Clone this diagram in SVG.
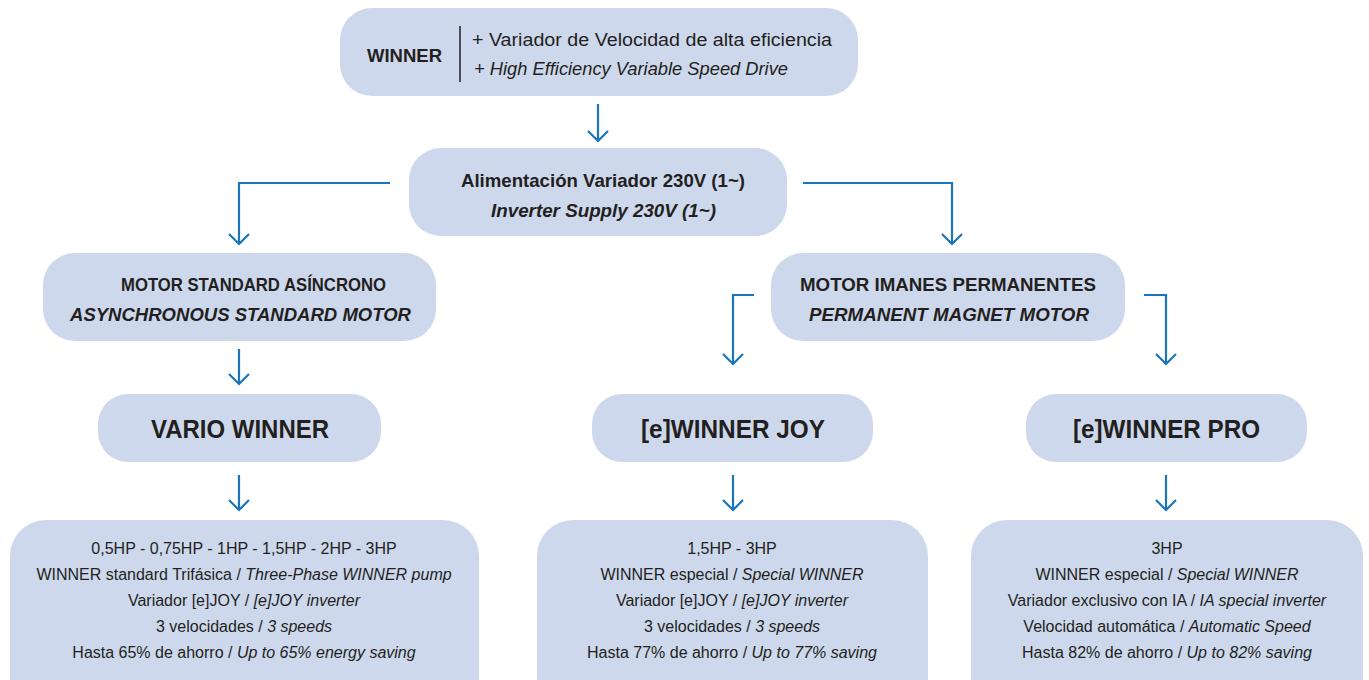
<svg xmlns="http://www.w3.org/2000/svg" width="1369" height="680" viewBox="0 0 1369 680">
<style>
.box{fill:#cdd8ec}
.t{font-family:"Liberation Sans",Arial,sans-serif;fill:#231f20;text-anchor:middle}
.b{font-weight:bold}
.i{font-style:italic}
.c{fill:none;stroke:#1b75bc;stroke-width:2.2}
.s{font-size:16px}
</style>
<rect width="1369" height="680" fill="#fff"/>
<g id="connectors" class="c">
<path d="M598,104V141M588,131L598,141L608,131"/>
<path d="M390,183H239V244M229,234L239,244L249,234"/>
<path d="M803,183H952V244M942,234L952,244L962,234"/>
<path d="M239,349V384M229,374L239,384L249,374"/>
<path d="M754,295H733V364M723,354L733,364L743,354"/>
<path d="M1144,295H1166V364M1156,354L1166,364L1176,354"/>
<path d="M239,475V510M229,500L239,510L249,500"/>
<path d="M733,475V510M723,500L733,510L743,500"/>
<path d="M1166,475V510M1156,500L1166,510L1176,500"/>
</g>
<g id="n-winner">
<rect class="box" x="340" y="8" width="518" height="88" rx="32"/>
<text class="t b" x="404.5" y="62" font-size="18.5" textLength="75" lengthAdjust="spacingAndGlyphs">WINNER</text>
<line x1="460" y1="26" x2="460" y2="82" stroke="#231f20" stroke-width="1.5"/>
<text class="t" x="652" y="46" font-size="17.5" textLength="360" lengthAdjust="spacingAndGlyphs">+ Variador de Velocidad de alta eficiencia</text>
<text class="t i" x="631" y="75" font-size="17.5" textLength="314" lengthAdjust="spacingAndGlyphs">+ High Efficiency Variable Speed Drive</text>
</g>
<g id="n-supply">
<rect class="box" x="409" y="148" width="378" height="88" rx="32"/>
<text class="t b" x="603" y="187" font-size="19" textLength="284" lengthAdjust="spacingAndGlyphs">Alimentación Variador 230V (1~)</text>
<text class="t b i" x="603.5" y="217" font-size="19" textLength="225" lengthAdjust="spacingAndGlyphs">Inverter Supply 230V (1~)</text>
</g>
<g id="n-async">
<rect class="box" x="43" y="253" width="393" height="88" rx="32"/>
<text class="t b" x="253.5" y="291" font-size="18.5" textLength="265" lengthAdjust="spacingAndGlyphs">MOTOR STANDARD ASÍNCRONO</text>
<text class="t b i" x="240.5" y="321" font-size="18.5" textLength="341" lengthAdjust="spacingAndGlyphs">ASYNCHRONOUS STANDARD MOTOR</text>
</g>
<g id="n-pm">
<rect class="box" x="771" y="253" width="354" height="88" rx="32"/>
<text class="t b" x="948" y="291" font-size="18.5" textLength="296" lengthAdjust="spacingAndGlyphs">MOTOR IMANES PERMANENTES</text>
<text class="t b i" x="949" y="321" font-size="18.5" textLength="280" lengthAdjust="spacingAndGlyphs">PERMANENT MAGNET MOTOR</text>
</g>
<g id="n-vario">
<rect class="box" x="98" y="394" width="283" height="68" rx="30"/>
<text class="t b" x="240" y="438" font-size="26" textLength="178" lengthAdjust="spacingAndGlyphs">VARIO WINNER</text>
</g>
<g id="n-joy">
<rect class="box" x="592" y="394" width="281" height="68" rx="30"/>
<text class="t b" x="733" y="438" font-size="26" textLength="184" lengthAdjust="spacingAndGlyphs">[e]WINNER JOY</text>
</g>
<g id="n-pro">
<rect class="box" x="1026" y="394" width="281" height="68" rx="30"/>
<text class="t b" x="1166.5" y="438" font-size="26" textLength="187" lengthAdjust="spacingAndGlyphs">[e]WINNER PRO</text>
</g>
<g id="d-vario">
<rect class="box" x="10" y="520" width="469" height="200" rx="36"/>
<text class="t s" x="244" y="554">0,5HP - 0,75HP - 1HP - 1,5HP - 2HP - 3HP</text>
<text class="t s" x="244" y="580">WINNER standard Trifásica / <tspan class="i">Three-Phase WINNER pump</tspan></text>
<text class="t s" x="244" y="606">Variador [e]JOY / <tspan class="i">[e]JOY inverter</tspan></text>
<text class="t s" x="244" y="632">3 velocidades / <tspan class="i">3 speeds</tspan></text>
<text class="t s" x="244" y="658">Hasta 65% de ahorro / <tspan class="i">Up to 65% energy saving</tspan></text>
</g>
<g id="d-joy">
<rect class="box" x="537" y="520" width="391" height="200" rx="36"/>
<text class="t s" x="732" y="554">1,5HP - 3HP</text>
<text class="t s" x="732" y="580">WINNER especial / <tspan class="i">Special WINNER</tspan></text>
<text class="t s" x="732" y="606">Variador [e]JOY / <tspan class="i">[e]JOY inverter</tspan></text>
<text class="t s" x="732" y="632">3 velocidades / <tspan class="i">3 speeds</tspan></text>
<text class="t s" x="732" y="658">Hasta 77% de ahorro / <tspan class="i">Up to 77% saving</tspan></text>
</g>
<g id="d-pro">
<rect class="box" x="971" y="520" width="392" height="200" rx="36"/>
<text class="t s" x="1167" y="554">3HP</text>
<text class="t s" x="1167" y="580">WINNER especial / <tspan class="i">Special WINNER</tspan></text>
<text class="t s" x="1167" y="606">Variador exclusivo con IA / <tspan class="i">IA special inverter</tspan></text>
<text class="t s" x="1167" y="632">Velocidad automática / <tspan class="i">Automatic Speed</tspan></text>
<text class="t s" x="1167" y="658">Hasta 82% de ahorro / <tspan class="i">Up to 82% saving</tspan></text>
</g>
</svg>
